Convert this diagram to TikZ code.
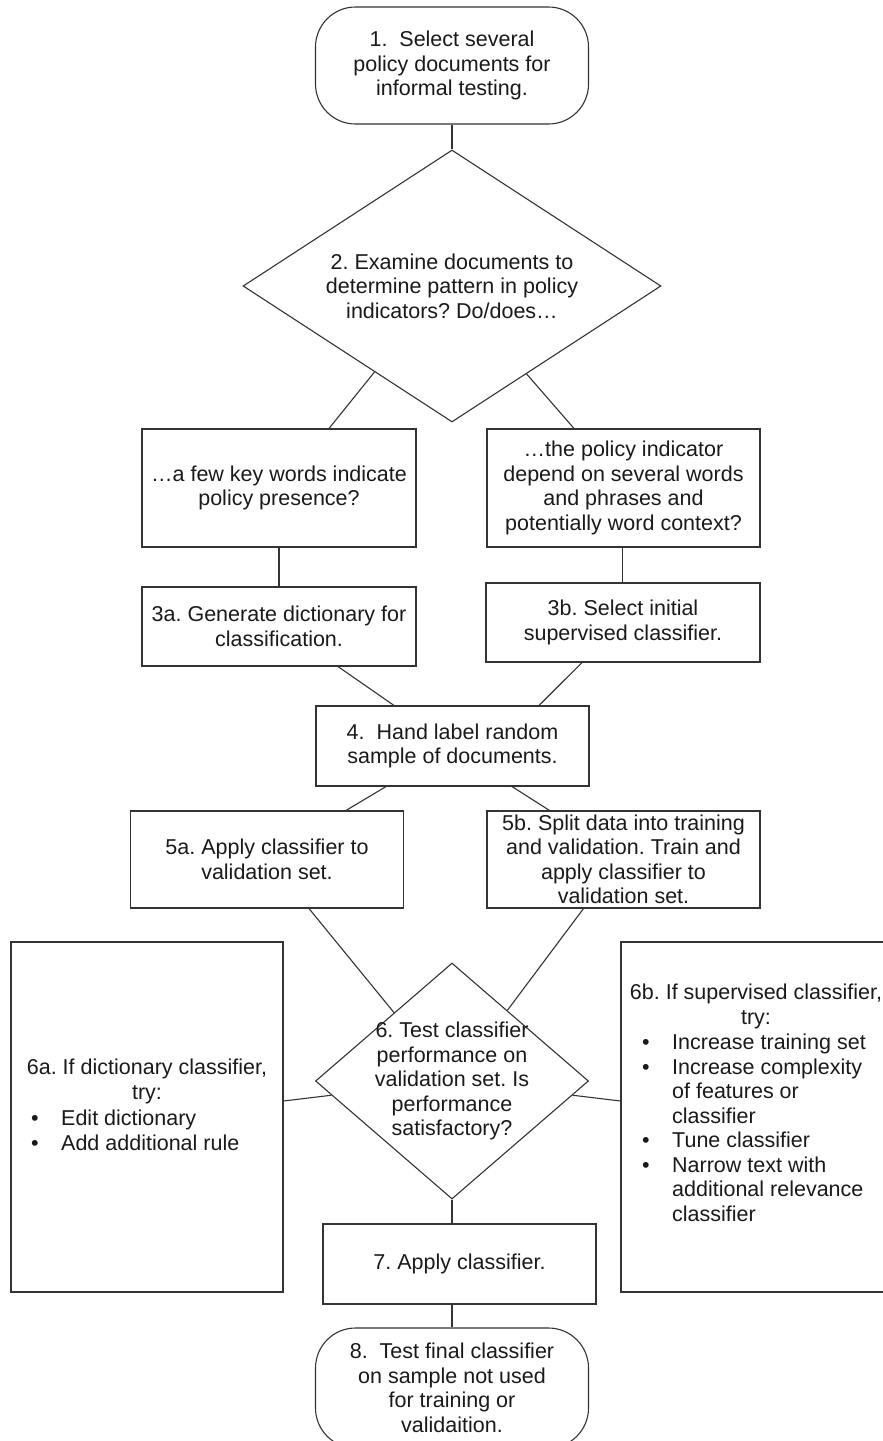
\documentclass[tikz,border=0pt]{standalone}
\usepackage{fontspec}
\setmainfont{Liberation Sans}
\usetikzlibrary{shapes.geometric,calc}
\definecolor{linec}{HTML}{333333}
\definecolor{textc}{HTML}{1A1A1A}
\newcommand\ftxt{\fontsize{21.5}{24.5}\selectfont\frenchspacing}
\newcommand\bitem[1]{\makebox[30pt][l]{\textbullet}#1}
\newcommand\bcont[1]{\hspace*{30pt}#1}
\frenchspacing
\begin{document}
\begin{tikzpicture}[x=1pt,y=-1pt,
  shp/.style={draw=linec, line width=1.1pt, fill=white, text=textc, font=\ftxt, align=center, inner sep=0pt},
  boxn/.style={shp, rectangle},
  term/.style={shp, rectangle, rounded corners=40pt},
  dia/.style={shp, diamond},
  txt/.style={text=textc, font=\ftxt, inner sep=0pt},
  conn/.style={draw=linec, line width=1.1pt}]
\useasboundingbox (0,0) rectangle (883,1441);
\clip (0,0) rectangle (883,1441);
\fill[white] (0,0) rectangle (883,1441);

% shapes
\node[term, minimum width=273pt, minimum height=117pt] (t1) at (452,65.5)
  {1.\ \ Select several\\policy documents for\\informal testing.};
\node[dia, minimum width=418pt, minimum height=272pt] (d2) at (452,286) {};
\node[txt, align=center] (d2t) at (d2.center)
  {2. Examine documents to\\determine pattern in policy\\indicators? Do/does…};
\node[boxn, minimum width=274pt, minimum height=118pt] (bA) at (279,488)
  {…a few key words indicate\\policy presence?};
\node[boxn, minimum width=273pt, minimum height=118pt] (bB) at (623.5,488)
  {…the policy indicator\\depend on several words\\and phrases and\\potentially word context?};
\node[boxn, minimum width=274pt, minimum height=79pt] (b3a) at (279,626.5)
  {3a. Generate dictionary for\\classification.};
\node[boxn, minimum width=274pt, minimum height=79pt] (b3b) at (623,622.5)
  {3b. Select initial\\supervised classifier.};
\node[boxn, minimum width=273pt, minimum height=80pt] (b4) at (452.5,746)
  {4.\ \ Hand label random\\sample of documents.};
\node[boxn, minimum width=273pt, minimum height=97pt] (b5a) at (267,859.5)
  {5a. Apply classifier to\\validation set.};
\node[boxn, minimum width=273pt, minimum height=97pt] (b5b) at (623.5,859.5)
  {5b. Split data into training\\and validation. Train and\\apply classifier to\\validation set.};
\node[dia, minimum width=273pt, minimum height=236pt] (d6) at (452,1081) {};
\node[txt, align=center] (d6t) at (d6.center)
  {6. Test classifier\\performance on\\validation set. Is\\performance\\satisfactory?};
\node[boxn, minimum width=272pt, minimum height=350pt] (b6a) at (147,1117) {};
\node[txt, align=center] (h6a) at (147,1081.5) {6a. If dictionary classifier,\\try:};
\node[txt, align=left, anchor=west] (l6a) at (31,1130.5)
  {\bitem{Edit dictionary}\\\bitem{Add additional rule}};
\node[boxn, minimum width=270pt, minimum height=350pt] (b6b) at (756,1117) {};
\node[txt, align=center] (h6b) at (756,1006.5) {6b. If supervised classifier,\\try:};
\node[txt, align=left, anchor=west] (l6b) at (642,1128)
  {\bitem{Increase training set}\\\bitem{Increase complexity}\\\bcont{of features or}\\\bcont{classifier}\\\bitem{Tune classifier}\\\bitem{Narrow text with}\\\bcont{additional relevance}\\\bcont{classifier}};
\node[boxn, minimum width=273pt, minimum height=80pt] (b7) at (459.5,1264)
  {7. Apply classifier.};
\node[term, minimum width=273pt, minimum height=120pt] (t8) at (452,1388)
  {8.\ \ Test final classifier\\on sample not used\\for training or\\validaition.};

% connectors
\draw[conn] (t1.south) -- (d2.north);
\draw[conn] ($(d2.west)!0.63!(d2.south)$) -- ($(bA.north)+(50,0)$);
\draw[conn] ($(d2.east)!0.644!(d2.south)$) -- ($(bB.north)+(-49.5,0)$);
\draw[conn] (bA.south) -- (b3a.north);
\draw[conn] ($(bB.south)+(-1,0)$) -- ($(b3b.north)+(-0.5,0)$);
\draw[conn] ($(b3a.south)+(59,0)$) -- ($(b4.north)+(-58.5,0)$);
\draw[conn] ($(b3b.south)+(-41,0)$) -- ($(b4.north)+(86.5,0)$);
\draw[conn] ($(b4.south)+(-66.5,0)$) -- ($(b5a.north)+(79,0)$);
\draw[conn] ($(b4.south)+(59.5,0)$) -- ($(b5b.north)+(-74,0)$);
\draw[conn] ($(b5a.south)+(42,0)$) -- ($(d6.west)!0.577!(d6.north)$);
\draw[conn] ($(b5b.south)+(-40,0)$) -- ($(d6.north)!0.404!(d6.east)$);
\draw[conn] ($(b6a.east)+(0,-16)$) -- ($(d6.west)!0.12!(d6.south)$);
\draw[conn] ($(d6.east)!0.12!(d6.south)$) -- ($(b6b.west)+(0,-16)$);
\draw[conn] (d6.south) -- (d6.south |- b7.north);
\draw[conn] (d6.south |- b7.south) -- (d6.south |- t8.north);
\end{tikzpicture}
\end{document}
